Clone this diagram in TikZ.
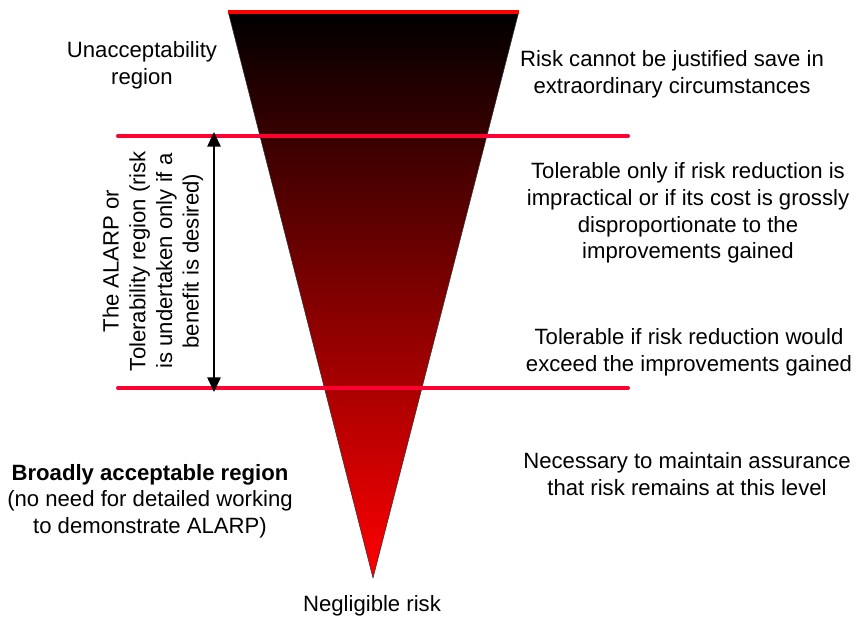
\documentclass[tikz,border=0pt]{standalone}
\usepackage{fontspec}
\setmainfont{Liberation Sans}
\usepackage{xcolor}
\usetikzlibrary{arrows.meta}

\definecolor{limitred}{RGB}{255,0,51}

\begin{document}
\begin{tikzpicture}[x=0.75pt,y=-0.75pt,>=Triangle,line join=round,
    region/.style={align=center,inner sep=0pt,font=\fontsize{16.6}{20}\selectfont}]
  \useasboundingbox (0,0) rectangle (857,620);
  \coordinate (TL) at (228,11);
  \coordinate (TR) at (519,11);
  \coordinate (AP) at (373,578);
  \coordinate (U0) at (118,136);
  \coordinate (U1) at (628,136);
  \coordinate (L0) at (118,388);
  \coordinate (L1) at (628,388);
  \coordinate (A0) at (214,136);
  \coordinate (A1) at (214,388);
  \shade[top color=black,bottom color=red] (TL) -- (TR) -- (AP) -- cycle;
  \draw[line width=0.4pt,black!80] (TL) -- (TR) -- (AP) -- cycle;
  \draw[line width=3pt,red] ([yshift=-1]TL) -- ([yshift=-1]TR);
  \draw[line width=3pt,limitred,line cap=round] (U0) -- (U1);
  \draw[line width=3pt,limitred,line cap=round] (L0) -- (L1);
  \draw[line width=1.3pt,<->,>={Triangle[length=11pt,width=10pt]}] ([yshift=3]A0) -- ([yshift=-3]A1);
  \node[region] (unacc) at (142,65) {Unacceptability\\region};
  \node[region] (just) at (672,74) {Risk cannot be justified save in\\extraordinary circumstances};
  \node[region] (tolonly) at (688,213) {Tolerable only if risk reduction is\\impractical or if its cost is grossly\\disproportionate to the\\improvements gained};
  \node[region] (tolif) at (689,352) {Tolerable if risk reduction would\\exceed the improvements gained};
  \node[region] (assur) at (687,474) {Necessary to maintain assurance\\that risk remains at this level};
  \node[region] (broad) at (150,501) {\textbf{Broadly acceptable region}\\(no need for detailed working\\to demonstrate ALARP)};
  \node[region] (negl) at (372,606) {Negligible risk};
  \node[region,rotate=90] (alarp) at (153,261) {The ALARP or\\Tolerability region (risk\\is undertaken only if a\\benefit is desired)};
\end{tikzpicture}
\end{document}
